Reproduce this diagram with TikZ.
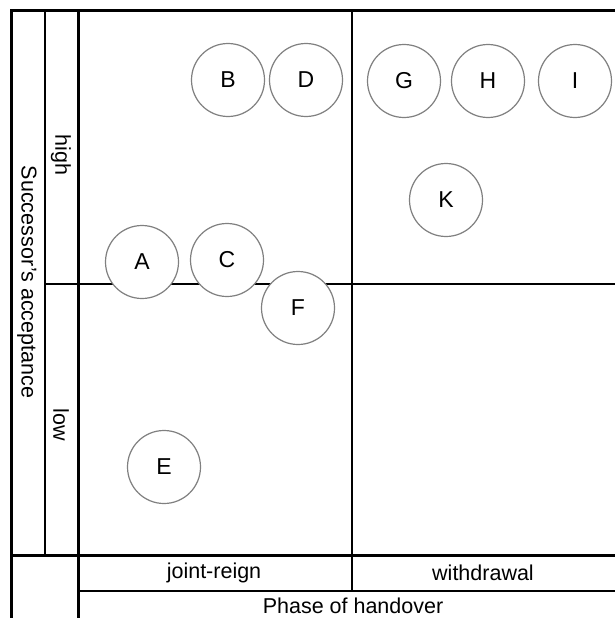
\documentclass[tikz,border=0pt]{standalone}
\usepackage{fontspec}
\setmainfont{Liberation Sans}
\usepackage{tikz}
\usetikzlibrary{positioning}

\begin{document}
\begin{tikzpicture}[x=1pt,y=-1pt,
    thickline/.style={line width=3pt},
    thinline/.style={line width=1.8pt},
    lbl/.style={font=\fontsize{21.5}{25}\selectfont,inner sep=0pt},
    firm/.style={circle,draw=black!50,line width=1.2pt,fill=white,
      minimum size=73pt,inner sep=0pt,font=\fontsize{23}{27}\selectfont}]
  \useasboundingbox (0,0) rectangle (615,618);
  % grid
  \draw[thinline] (45,11) -- (45,555);
  \draw[thinline] (352,11) -- (352,591);
  \draw[thinline] (45,284) -- (615,284);
  \draw[thinline] (78,591) -- (615,591);
  \draw[thickline] (11,618) -- (11,11) -- (615,11);
  \draw[thickline] (78,11) -- (78,618);
  \draw[thickline] (11,555) -- (615,555);
  % axis labels
  \node[lbl,rotate=-90] (yaxis) at (27,282) {Successor's acceptance};
  \node[lbl,rotate=-90] (high) at (61,155) {high};
  \node[lbl,rotate=-90] (low) at (61,425) {low};
  \node[lbl] (joint) at (214,573) {joint-reign};
  \node[lbl] (withdr) at (483,573) {withdrawal};
  \node[lbl] (xaxis) at (353,606) {Phase of handover};
  % firms
  \node[firm] (A) at (142,262) {A};
  \node[firm] (C) at (227,260) {C};
  \node[firm] (F) at (298,308) {F};
  \node[firm] (B) at (228,80) {B};
  \node[firm] (D) at (306,80) {D};
  \node[firm] (G) at (404,81) {G};
  \node[firm] (H) at (488,81) {H};
  \node[firm] (I) at (575,81) {I};
  \node[firm] (K) at (446,200) {K};
  \node[firm] (E) at (164,467) {E};
\end{tikzpicture}
\end{document}
